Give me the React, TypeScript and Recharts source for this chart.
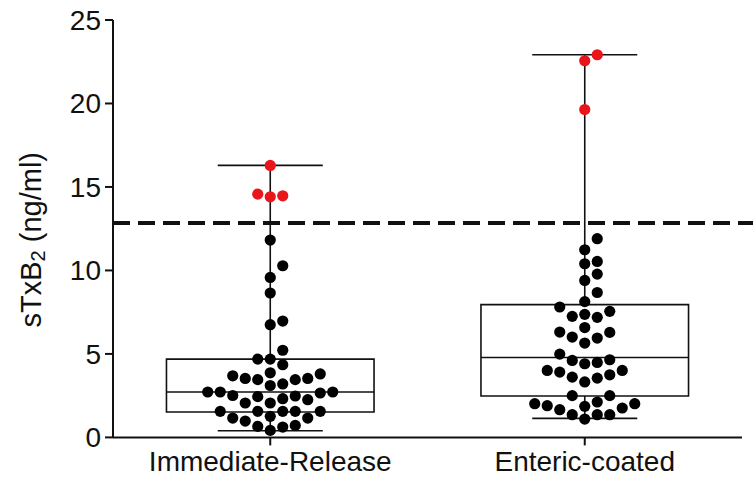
import React from "react";
import {
  ScatterChart,
  Scatter,
  XAxis,
  YAxis,
  ReferenceLine,
  ReferenceArea,
} from "recharts";

// categories
const groups = ["Immediate-Release", "Enteric-coated"];

// sTxB2 values (ng/ml) per patient
const immediateRelease = [
  16.29, 14.57, 14.47, 14.41, 11.82, 10.28, 9.58, 8.65, 6.97, 6.75, 5.22,
  4.69, 4.69, 4.35, 3.87, 3.8, 3.69, 3.53, 3.53, 3.46, 3.46, 3.2, 3.11, 2.72,
  2.72, 2.72, 2.66, 2.51, 2.48, 2.44, 2.32, 2.26, 2.06, 2.06, 1.56, 1.56, 1.56,
  1.56, 1.56, 1.26, 1.16, 1.16, 0.98, 0.72, 0.66, 0.62, 0.42,
];
const entericCoated = [
  22.92, 22.56, 19.64, 11.9, 11.24, 10.54, 10.4, 9.78, 9.4, 8.68, 8.13, 7.81,
  7.55, 7.37, 7.25, 7.19, 6.58, 6.31, 6.29, 6.01, 5.95, 5.65, 4.99, 4.65, 4.61,
  4.49, 4.41, 4.01, 4.01, 3.91, 3.75, 3.61, 3.55, 3.32, 2.5, 2.5, 2.12, 2.02,
  2.02, 1.9, 1.86, 1.76, 1.66, 1.36, 1.36, 1.36, 1.1,
];

// box & whisker stats
const boxMin = [0.4, 1.14];
const boxQ1 = [1.52, 2.48];
const boxMedian = [2.72, 4.79];
const boxQ3 = [4.69, 7.95];
const boxMax = [16.29, 22.92];

const threshold = 12.84;
const yTicks = [0, 5, 10, 15, 20, 25];

const W = 753;
const H = 483;
const MARGIN = { top: 20, right: 11, left: 0, bottom: 0 };
const Y_AXIS_W = 113;
const X_AXIS_H = 45.6;
const PLOT_W = W - Y_AXIS_W - MARGIN.right;
const PLOT_H = H - MARGIN.top - X_AXIS_H;
const PX_PER_UNIT = PLOT_H / 25;
const BAND_W = PLOT_W / 2;
const COL_W = 12.5;
const MIN_GAP = 12.5;
const FONT = "'Liberation Sans', Arial, sans-serif";
const INK = "#111";

type Pt = { x: number; y: number; hot: boolean };

// grid-column beeswarm, like a scatter dot plot
function swarm(values: number[], g: number): Pt[] {
  const sorted = [...values].sort((a, b) => a - b);
  const placed: { col: number; py: number }[] = [];
  return sorted.map((v) => {
    const py = v * PX_PER_UNIT;
    for (let k = 0; ; k++) {
      const col = k === 0 ? 0 : k % 2 === 1 ? (k + 1) / 2 : -k / 2;
      if (!placed.some((p) => p.col === col && Math.abs(p.py - py) < MIN_GAP)) {
        placed.push({ col, py });
        return { x: g + 0.5 + (col * COL_W) / BAND_W, y: v, hot: v > threshold };
      }
    }
  });
}

const points = [...swarm(immediateRelease, 0), ...swarm(entericCoated, 1)];

const Dot = (props: any) => {
  const { cx, cy, payload } = props;
  return <circle cx={cx} cy={cy} r={5.6} fill={payload.hot ? "#e8151b" : "#000"} />;
};

const YLabel = (props: any) => {
  const vb = props.viewBox || { y: MARGIN.top, height: PLOT_H };
  const cx = 31;
  const cy = vb.y + vb.height / 2 + 11;
  return (
    <text
      x={cx}
      y={cy}
      transform={`rotate(-90, ${cx}, ${cy})`}
      textAnchor="middle"
      dominantBaseline="central"
      fontSize={29}
      fontFamily={FONT}
      fill={INK}
    >
      sTxB
      <tspan dy={7} fontSize={20}>
        2
      </tspan>
      <tspan dy={-7}> (ng/ml)</tspan>
    </text>
  );
};

export default function App() {
  const boxHalf = 0.33;
  const capHalf = 0.167;
  return (
    <div style={{ position: "absolute", left: 0, top: 0, background: "#fff" }}>
      <ScatterChart width={W} height={H} margin={MARGIN}>
        <XAxis
          type="number"
          dataKey="x"
          domain={[0, 2]}
          ticks={[0.5, 1.5]}
          tickFormatter={(v) => groups[Math.floor(v)]}
          allowDataOverflow
          height={X_AXIS_H}
          tickSize={8}
          tickMargin={6}
          stroke={INK}
          strokeWidth={2}
          tick={{ fontSize: 28, fill: INK, fontFamily: FONT }}
        />
        <YAxis
          type="number"
          dataKey="y"
          domain={[0, 25]}
          ticks={yTicks}
          width={Y_AXIS_W}
          tickSize={8}
          tickMargin={4}
          stroke={INK}
          strokeWidth={2}
          tick={{ fontSize: 28, fill: INK, fontFamily: FONT }}
          label={<YLabel />}
        />
        {groups.map((_, g) => (
          <ReferenceArea
            key={`box${g}`}
            x1={g + 0.5 - boxHalf}
            x2={g + 0.5 + boxHalf}
            y1={boxQ1[g]}
            y2={boxQ3[g]}
            fill="none"
            fillOpacity={0}
            stroke={INK}
            strokeWidth={1.6}
          />
        ))}
        {groups.map((_, g) => (
          <ReferenceLine
            key={`med${g}`}
            segment={[
              { x: g + 0.5 - boxHalf, y: boxMedian[g] },
              { x: g + 0.5 + boxHalf, y: boxMedian[g] },
            ]}
            stroke={INK}
            strokeWidth={1.6}
          />
        ))}
        {groups.map((_, g) => (
          <ReferenceLine
            key={`wu${g}`}
            segment={[
              { x: g + 0.5, y: boxQ3[g] },
              { x: g + 0.5, y: boxMax[g] },
            ]}
            stroke={INK}
            strokeWidth={1.6}
          />
        ))}
        {groups.map((_, g) => (
          <ReferenceLine
            key={`wl${g}`}
            segment={[
              { x: g + 0.5, y: boxMin[g] },
              { x: g + 0.5, y: boxQ1[g] },
            ]}
            stroke={INK}
            strokeWidth={1.6}
          />
        ))}
        {groups.map((_, g) => (
          <ReferenceLine
            key={`cmax${g}`}
            segment={[
              { x: g + 0.5 - capHalf, y: boxMax[g] },
              { x: g + 0.5 + capHalf, y: boxMax[g] },
            ]}
            stroke={INK}
            strokeWidth={1.6}
          />
        ))}
        {groups.map((_, g) => (
          <ReferenceLine
            key={`cmin${g}`}
            segment={[
              { x: g + 0.5 - capHalf, y: boxMin[g] },
              { x: g + 0.5 + capHalf, y: boxMin[g] },
            ]}
            stroke={INK}
            strokeWidth={1.6}
          />
        ))}
        <ReferenceLine
          segment={[
            { x: 0, y: threshold },
            { x: 2.04, y: threshold },
          ]}
          ifOverflow="visible"
          stroke={INK}
          strokeWidth={4}
          strokeDasharray="17 8"
        />
        <Scatter data={points} shape={<Dot />} isAnimationActive={false} />
      </ScatterChart>
    </div>
  );
}
